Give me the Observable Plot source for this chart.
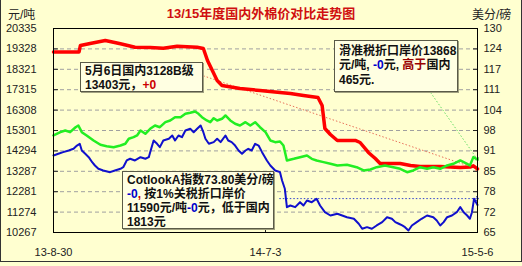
<!DOCTYPE html>
<html><head><meta charset="utf-8">
<script src="https://cdn.jsdelivr.net/npm/d3@7"></script>
<script src="https://cdn.jsdelivr.net/npm/@observablehq/plot@0.6"></script>
<style>
body{margin:0;background:#ffffd0;}
#wrap{position:relative;width:522px;height:266px;background:#ffffd0;overflow:hidden;font-family:"Liberation Sans","Noto Sans CJK SC",sans-serif;}
#wrap svg{position:absolute;left:0;top:0;}
.lbl{position:absolute;font-size:12px;line-height:14px;color:#222;white-space:nowrap;}
.title{position:absolute;left:0;width:522px;text-align:center;top:6px;font-size:13px;line-height:16px;font-weight:bold;color:#d01010;}
.box{position:absolute;box-sizing:border-box;border:1px solid #5a5a48;background:#ffffe2;font-weight:bold;font-size:12px;white-space:nowrap;box-shadow:1px 1px 0 #a0a080;color:#111;}
.box .ln{position:absolute;left:4px;height:14px;line-height:14px;}
.edge{position:absolute;left:0;top:0;width:520px;height:261px;border-left:1px solid #333;border-right:1px solid #333;border-bottom:1px solid #333;pointer-events:none;}
.r{color:#cc0000}.b{color:#0000cc}.dr{color:#990000}
</style></head>
<body><div id="wrap"></div>
<script>
// ---- data ----
const leftTicks = [20335, 19328, 18321, 17315, 16308, 15301, 14294, 13287, 12281, 11274, 10267];
const rightTicks = [130, 124, 117, 111, 104, 98, 91, 85, 78, 72, 65];
const xTickDates = ["2013-08-30", "2014-07-03", "2015-05-06"];
const xTickLabels = ["13-8-30", "14-7-3", "15-5-6"];

// 国内3128B (元/吨, left axis)
const redDates = ["2013-08-30","2013-10-06","2013-10-08","2013-10-22","2013-11-13","2013-12-05","2013-12-26","2014-01-17","2014-02-05","2014-02-25","2014-03-26","2014-04-04","2014-04-10","2014-04-17","2014-04-24","2014-05-01","2014-05-27","2014-06-25","2014-07-24","2014-08-08","2014-08-27","2014-09-17","2014-09-23","2014-09-27","2014-10-05","2014-10-15","2014-11-10","2014-11-17","2014-11-29","2014-12-09","2014-12-16","2015-01-14","2015-01-29","2015-02-12","2015-03-13","2015-04-11","2015-04-26","2015-04-30","2015-05-06"];
const redValues = [19180,19180,19500,19595,19740,19580,19412,19397,19363,19462,19412,19348,18756,18262,17769,17522,17374,17275,17180,17127,17028,16930,16535,15400,15104,14808,14808,14709,14216,13919,13673,13673,13574,13525,13525,13475,13500,13560,13403];

// 滑准税折口岸价 (元/吨, left axis)
const greenDates = ["2013-08-30","2013-09-09","2013-09-16","2013-09-23","2013-10-01","2013-10-05","2013-10-10","2013-10-17","2013-10-27","2013-11-06","2013-11-15","2013-11-25","2013-12-05","2013-12-12","2013-12-17","2013-12-24","2013-12-29","2014-01-03","2014-01-10","2014-01-17","2014-01-24","2014-01-31","2014-02-08","2014-02-15","2014-02-22","2014-03-02","2014-03-09","2014-03-16","2014-03-23","2014-03-28","2014-04-02","2014-04-09","2014-04-14","2014-04-19","2014-04-24","2014-05-01","2014-05-06","2014-05-13","2014-05-20","2014-05-27","2014-06-04","2014-06-11","2014-06-18","2014-06-25","2014-07-03","2014-07-10","2014-07-17","2014-07-24","2014-07-29","2014-08-03","2014-08-13","2014-08-22","2014-09-01","2014-09-08","2014-09-15","2014-09-25","2014-10-05","2014-10-15","2014-10-29","2014-11-12","2014-11-22","2014-12-02","2014-12-11","2014-12-23","2015-01-04","2015-01-14","2015-01-24","2015-02-02","2015-02-12","2015-02-22","2015-03-03","2015-03-13","2015-03-23","2015-04-01","2015-04-11","2015-04-21","2015-04-25","2015-04-30","2015-05-06"];
const greenValues = [15055,15218,15302,15218,15464,15548,15218,15055,14808,14595,14527,14477,14561,14645,14891,14971,15055,15302,15138,15385,15548,15464,15711,15795,15958,15958,16126,16175,16239,16126,15958,15795,15711,15909,15795,15879,16042,15795,15632,15548,15711,15548,15711,15464,15218,14808,14724,14758,14561,13821,13903,13984,14067,13903,13821,13739,13657,13574,13608,13491,13327,13377,13491,13574,13491,13410,13244,13327,13491,13410,13491,13410,13574,13657,13821,13657,13574,13986,13868];

// Cotlook A (美分/磅, right axis)
const blueDates = ["2013-08-30","2013-09-06","2013-09-13","2013-09-21","2013-09-28","2013-10-03","2013-10-07","2013-10-10","2013-10-15","2013-10-20","2013-10-25","2013-10-29","2013-11-03","2013-11-10","2013-11-20","2013-11-27","2013-12-05","2013-12-09","2013-12-14","2013-12-19","2013-12-26","2014-01-03","2014-01-10","2014-01-15","2014-01-17","2014-01-22","2014-01-27","2014-01-31","2014-02-05","2014-02-13","2014-02-18","2014-02-22","2014-02-27","2014-03-04","2014-03-09","2014-03-16","2014-03-21","2014-03-26","2014-03-31","2014-04-04","2014-04-07","2014-04-12","2014-04-19","2014-04-24","2014-04-29","2014-05-06","2014-05-10","2014-05-15","2014-05-20","2014-05-25","2014-05-30","2014-06-04","2014-06-08","2014-06-13","2014-06-18","2014-06-23","2014-06-28","2014-07-05","2014-07-10","2014-07-17","2014-07-24","2014-07-27","2014-07-31","2014-08-03","2014-08-08","2014-08-15","2014-08-22","2014-08-27","2014-09-01","2014-09-08","2014-09-15","2014-09-20","2014-09-27","2014-10-05","2014-10-15","2014-10-22","2014-10-29","2014-11-08","2014-11-15","2014-11-20","2014-11-27","2014-12-04","2014-12-11","2014-12-19","2014-12-26","2015-01-02","2015-01-07","2015-01-12","2015-01-17","2015-01-21","2015-01-26","2015-01-31","2015-02-07","2015-02-14","2015-02-22","2015-03-03","2015-03-08","2015-03-13","2015-03-18","2015-03-23","2015-03-30","2015-04-06","2015-04-11","2015-04-16","2015-04-21","2015-04-25","2015-04-28","2015-05-01","2015-05-06"];
const blueValues = [89.54,90.08,90.6,91.13,91.67,92.7,93.26,91.13,90.08,89.0,87.4,86.35,85.3,84.76,84.22,84.76,85.3,85.8,87.95,88.5,87.95,89.0,88.5,89.0,90.6,94.32,93.26,92.2,94.32,94.86,95.9,94.32,95.9,95.37,97.5,98.04,96.96,98.04,99.1,96.96,94.86,93.26,93.8,94.86,93.8,95.9,94.32,93.8,92.7,91.13,90.08,91.13,91.67,91.13,93.26,92.7,90.6,87.95,86.35,84.76,84.22,81.57,78.93,73.07,73.6,73.07,74.66,73.6,75.2,74.66,75.74,73.6,71.47,70.42,70.96,70.42,69.88,69.37,67.78,66.18,66.7,66.18,67.24,68.3,69.88,69.37,68.3,67.78,67.24,66.7,65.64,67.24,68.3,69.37,70.42,69.88,68.83,67.24,68.3,69.88,70.42,71.47,73.07,71.47,70.42,69.37,71.47,75.74,73.80];

// leader lines: start (near callout) -> end (latest value)
const leaderSeries = ["red", "green", "blue"];
const leaderStartDates = ["2014-04-04", "2015-02-27", "2014-07-23"];
const leaderStartValues = [18000, 17177, 75.8];
const leaderEndDates = ["2015-05-06", "2015-05-06", "2015-05-06"];
const leaderEndValues = [13403, 13868, 75.8];

// ---- build ----
const parse = d3.utcParse("%Y-%m-%d");
const L0 = leftTicks[leftTicks.length - 1], L1 = leftTicks[0];
const R0 = rightTicks[rightTicks.length - 1], R1 = rightTicks[0];
const toLeft = v => L0 + (v - R0) * (L1 - L0) / (R1 - R0);

const red = redDates.map((d, i) => ({date: parse(d), value: redValues[i]}));
const green = greenDates.map((d, i) => ({date: parse(d), value: greenValues[i]}));
const blue = blueDates.map((d, i) => ({date: parse(d), value: toLeft(blueValues[i])}));
const leaders = leaderSeries.map((s, i) => ({
  s,
  x1: parse(leaderStartDates[i]), y1: s === "blue" ? toLeft(leaderStartValues[i]) : leaderStartValues[i],
  x2: parse(leaderEndDates[i]), y2: s === "blue" ? toLeft(leaderEndValues[i]) : leaderEndValues[i]
}));
const leaderColor = {red: "#e8705a", green: "#66dd66", blue: "#3344cc"};
const xTicks = xTickDates.map(parse);

const chart = Plot.plot({
  width: 522, height: 266,
  marginTop: 28, marginBottom: 34, marginLeft: 53, marginRight: 45,
  style: {background: "transparent", fontFamily: "'Liberation Sans', Arial, sans-serif", fontSize: "11px", color: "#222"},
  x: {type: "utc", domain: [xTicks[0], xTicks[xTicks.length - 1]], label: null},
  y: {domain: [L0, L1], label: null},
  marks: [
    Plot.gridY(leftTicks.slice(1, -1), {stroke: "#a0a0a0", strokeOpacity: 1, strokeDasharray: "4,3"}),
    Plot.axisY(leftTicks, {anchor: "left", tickSize: 0, tickPadding: 17, label: null, tickFormat: d => String(d)}),
    Plot.axisY(leftTicks, {anchor: "left", tickSize: 5, dx: 5, label: null, tickFormat: () => ""}),
    Plot.axisY(leftTicks, {anchor: "right", tickSize: 0, tickPadding: 6, label: null, tickFormat: d => String(rightTicks[leftTicks.indexOf(d)])}),
    Plot.axisY(leftTicks, {anchor: "right", tickSize: 5, dx: -5, label: null, tickFormat: () => ""}),
    Plot.axisX(xTicks, {tickSize: 0, tickPadding: 16, label: null, tickFormat: d => xTickLabels[xTicks.findIndex(t => +t === +d)]}),
    Plot.axisX(xTicks.slice(1, -1), {tickSize: 5, dy: -5, label: null, tickFormat: () => ""}),
    Plot.link(leaders, {x1: "x1", y1: "y1", x2: "x2", y2: "y2", stroke: d => leaderColor[d.s], strokeWidth: 1, strokeDasharray: "1.5,2", markerEnd: "arrow"}),
    Plot.line(red, {x: "date", y: "value", stroke: "#ff0000", strokeWidth: 3.5}),
    Plot.line(green, {x: "date", y: "value", stroke: "#22ee22", strokeWidth: 2.5}),
    Plot.line(blue, {x: "date", y: "value", stroke: "#1010cc", strokeWidth: 2}),
    Plot.frame({stroke: "#000", strokeWidth: 1})
  ]
});

const wrap = document.getElementById("wrap");
wrap.appendChild(chart);
const ln = (top, html) => `<div class="ln" style="top:${top}px">${html}</div>`;
wrap.insertAdjacentHTML("beforeend", `
  <div class="title">13/15年度国内外棉价对比走势图</div>
  <div class="lbl" style="left:8px;top:8px">元/吨</div>
  <div class="lbl" style="left:472px;top:8px">美分/磅</div>
  <div class="box" style="left:80px;top:62px;width:123px;height:30px">
    ${ln(1, "5月6日国内3128B级")}${ln(15, '13403元，<span class="r">+0</span>')}
  </div>
  <div class="box" style="left:122px;top:171px;width:152px;height:58px">
    ${ln(1, "CotlookA指数73.80美分/磅")}${ln(15, '<span class="b">-0</span><span class="r">,</span> 按1%关税折口岸价')}${ln(29, '11590元/吨<span class="b">-0</span>元，低于国内')}${ln(43, "1813元")}
  </div>
  <div class="box" style="left:334px;top:40px;width:124px;height:52px">
    ${ln(3, "滑准税折口岸价13868")}${ln(17, '元/吨, <span class="b">-0</span>元, <span class="dr">高于</span>国内')}${ln(32, "465元.")}
  </div>
  <div class="edge"></div>
`);
</script>
</body></html>
